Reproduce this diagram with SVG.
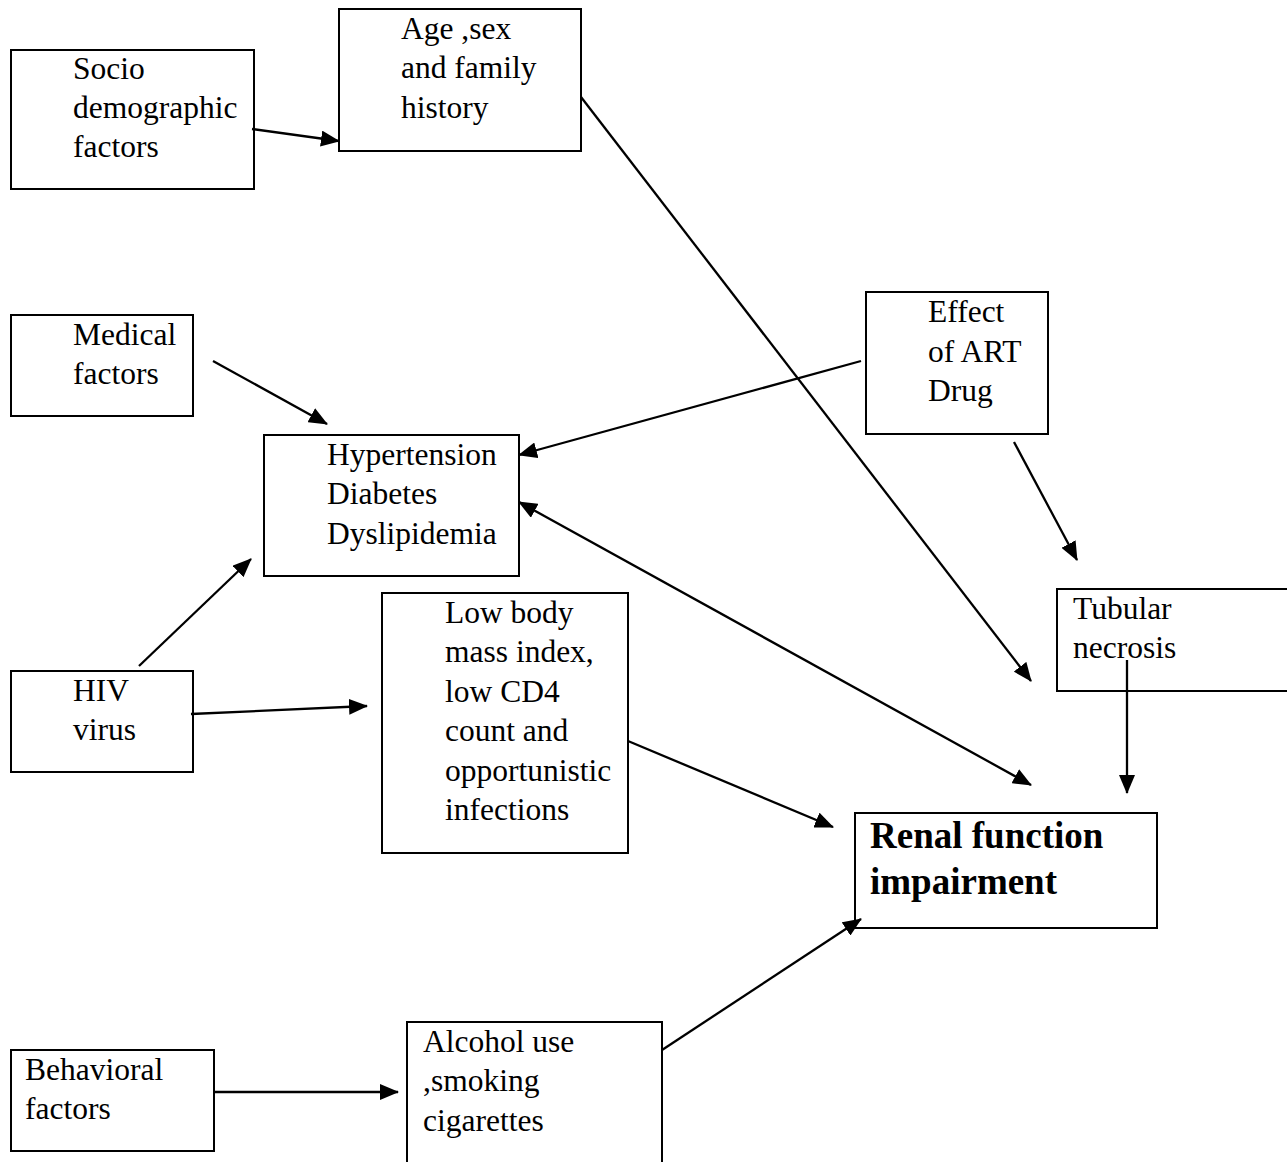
<svg xmlns="http://www.w3.org/2000/svg" width="1287" height="1162" viewBox="0 0 1287 1162">
<style>
.box{fill:none;stroke:#000;stroke-width:2}
.t{font-family:"Liberation Serif","Times New Roman",serif;font-size:31.5px;fill:#000}
.b{font-family:"Liberation Serif","Times New Roman",serif;font-size:37px;font-weight:bold;fill:#000}
.c{fill:none;stroke:#000;stroke-width:2.3}
</style>
<defs>
<marker id="ah" markerUnits="userSpaceOnUse" markerWidth="20" markerHeight="16" refX="18" refY="8" orient="auto-start-reverse">
<path d="M0,0 L19,8 L0,16 z" fill="#000"/>
</marker>
</defs>
<rect width="1287" height="1162" fill="#fff"/>
<g id="socio">
<rect class="box" x="11" y="50" width="243" height="139"/>
<text class="t" x="73" y="79">Socio</text>
<text class="t" x="73" y="118">demographic</text>
<text class="t" x="73" y="157">factors</text>
</g>
<g id="age">
<rect class="box" x="339" y="9" width="242" height="142"/>
<text class="t" x="401" y="39">Age ,sex</text>
<text class="t" x="401" y="78">and family</text>
<text class="t" x="401" y="118">history</text>
</g>
<g id="medical">
<rect class="box" x="11" y="315" width="182" height="101"/>
<text class="t" x="73" y="345">Medical</text>
<text class="t" x="73" y="384">factors</text>
</g>
<g id="hypertension">
<rect class="box" x="264" y="435" width="255" height="141"/>
<text class="t" x="327" y="465">Hypertension</text>
<text class="t" x="327" y="504">Diabetes</text>
<text class="t" x="327" y="544">Dyslipidemia</text>
</g>
<g id="effect">
<rect class="box" x="866" y="292" width="182" height="142"/>
<text class="t" x="928" y="322">Effect</text>
<text class="t" x="928" y="362">of ART</text>
<text class="t" x="928" y="401">Drug</text>
</g>
<g id="tubular">
<rect class="box" x="1057" y="589" width="240" height="102"/>
<text class="t" x="1073" y="619">Tubular</text>
<text class="t" x="1073" y="658">necrosis</text>
</g>
<g id="hiv">
<rect class="box" x="11" y="671" width="182" height="101"/>
<text class="t" x="73" y="701">HIV</text>
<text class="t" x="73" y="740">virus</text>
</g>
<g id="lowbody">
<rect class="box" x="382" y="593" width="246" height="260"/>
<text class="t" x="445" y="623">Low body</text>
<text class="t" x="445" y="662">mass index,</text>
<text class="t" x="445" y="702">low CD4</text>
<text class="t" x="445" y="741">count and</text>
<text class="t" x="445" y="781">opportunistic</text>
<text class="t" x="445" y="820">infections</text>
</g>
<g id="renal">
<rect class="box" x="855" y="813" width="302" height="115"/>
<text class="b" x="870" y="848">Renal function</text>
<text class="b" x="870" y="894">impairment</text>
</g>
<g id="behavioral">
<rect class="box" x="11" y="1050" width="203" height="101"/>
<text class="t" x="25" y="1080">Behavioral</text>
<text class="t" x="25" y="1119">factors</text>
</g>
<g id="alcohol">
<path class="box" d="M407,1170 V1022 H662 V1170"/>
<text class="t" x="423" y="1052">Alcohol use</text>
<text class="t" x="423" y="1091">,smoking</text>
<text class="t" x="423" y="1131">cigarettes</text>
</g>
<g id="connectors">
<line class="c" x1="252" y1="129" x2="339" y2="141" marker-end="url(#ah)"/>
<line class="c" x1="581" y1="97" x2="1031" y2="681" marker-end="url(#ah)"/>
<line class="c" x1="213" y1="361" x2="327" y2="424" marker-end="url(#ah)"/>
<line class="c" x1="861" y1="361" x2="519" y2="455" marker-end="url(#ah)"/>
<line class="c" x1="1014" y1="442" x2="1077" y2="560" marker-end="url(#ah)"/>
<line class="c" x1="139" y1="666" x2="251" y2="559" marker-end="url(#ah)"/>
<line class="c" x1="191" y1="714" x2="367" y2="706" marker-end="url(#ah)"/>
<line class="c" x1="519" y1="502" x2="1031" y2="785" marker-start="url(#ah)" marker-end="url(#ah)"/>
<line class="c" x1="1127" y1="660" x2="1127" y2="793" marker-end="url(#ah)"/>
<line class="c" x1="628" y1="741" x2="833" y2="827" marker-end="url(#ah)"/>
<line class="c" x1="662" y1="1050" x2="861" y2="919" marker-end="url(#ah)"/>
<line class="c" x1="214" y1="1092" x2="398" y2="1092" marker-end="url(#ah)"/>
</g>
</svg>
